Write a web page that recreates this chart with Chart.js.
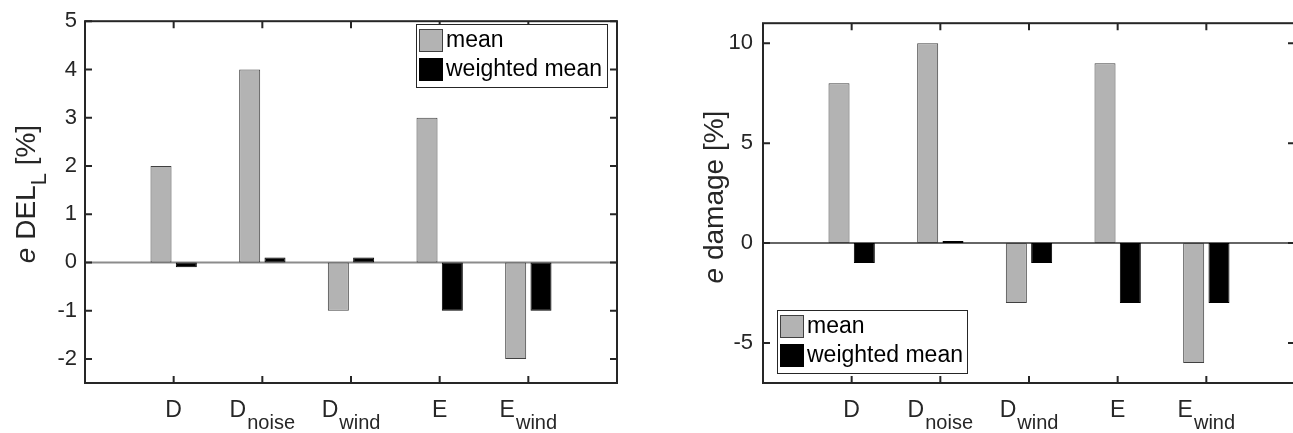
<!DOCTYPE html>
<html>
<head>
<meta charset="utf-8">
<script src="https://cdn.jsdelivr.net/npm/chart.js@4.4.1/dist/chart.umd.min.js"></script>
<style>
  html, body { margin: 0; padding: 0; background: #fff; overflow: hidden; width: 1293px; height: 433px; }
  canvas { position: absolute; top: 0; }
  #left { left: 0; }
  #right { left: 650px; }
</style>
</head>
<body>
<canvas id="left" width="650" height="433"></canvas>
<canvas id="right" width="650" height="433"></canvas>
<script>
// categories, with an empty slot at each end (the axis runs 0..6)
const categories = ['', 'D', 'Dnoise', 'Dwind', 'E', 'Ewind', '']
const labelMain = ['', 'D', 'D', 'D', 'E', 'E', '']
const labelSub = ['', '', 'noise', 'wind', '', 'wind', '']
const seriesNames = ['mean', 'weighted mean']

// left panel: e DEL_L [%]
const delMean = [null, 2, 4, -1, 3, -2, null]
const delWeighted = [null, -0.1, 0.1, 0.1, -1, -1, null]
const delTicks = [-2, -1, 0, 1, 2, 3, 4, 5]

// right panel: e damage [%]
const damageMean = [null, 8, 10, -3, 9, -6, null]
const damageWeighted = [null, -1, 0.1, -1, -3, -3, null]
const damageTicks = [-5, 0, 5, 10]

const FONT = '"Liberation Sans", Arial, Helvetica, sans-serif'
const INK = '#262626'

const frame = {
    id: 'frame',
    beforeDatasetsDraw(chart, args, opts) {
        const { ctx, chartArea: a, scales: { y } } = chart
        const y0 = y.getPixelForValue(0)
        ctx.save()
        ctx.strokeStyle = opts.zeroColor
        ctx.lineWidth = opts.zeroWidth
        ctx.beginPath()
        ctx.moveTo(a.left, y0)
        ctx.lineTo(a.right, y0)
        ctx.stroke()
        ctx.restore()
    },
    afterDraw(chart, args, opts) {
        const { ctx, chartArea: a, scales: { x, y } } = chart
        ctx.save()

        // box
        ctx.strokeStyle = INK
        ctx.lineWidth = 2
        ctx.strokeRect(a.left, a.top, a.right - a.left, a.bottom - a.top)

        // inward ticks
        const tl = 7
        ctx.beginPath()
        y.ticks.forEach(t => {
            const py = y.getPixelForValue(t.value)
            ctx.moveTo(a.left, py); ctx.lineTo(a.left + tl, py)
            ctx.moveTo(a.right, py); ctx.lineTo(a.right - tl, py)
        })
        for (let i = 1; i < categories.length - 1; i++) {
            const px = x.getPixelForValue(i)
            ctx.moveTo(px, a.bottom); ctx.lineTo(px, a.bottom - tl)
            ctx.moveTo(px, a.top); ctx.lineTo(px, a.top + tl)
        }
        ctx.stroke()

        // category labels with subscripts
        ctx.fillStyle = INK
        ctx.textBaseline = 'alphabetic'
        ctx.textAlign = 'left'
        for (let i = 1; i < categories.length - 1; i++) {
            const px = x.getPixelForValue(i)
            ctx.font = `23px ${FONT}`
            const wm = ctx.measureText(labelMain[i]).width
            ctx.font = `20px ${FONT}`
            const ws = labelSub[i] ? ctx.measureText(labelSub[i]).width + 1 : 0
            const x0 = px - (wm + ws) / 2
            ctx.font = `23px ${FONT}`
            ctx.fillText(labelMain[i], x0, 417)
            if (labelSub[i]) {
                ctx.font = `20px ${FONT}`
                ctx.fillText(labelSub[i], x0 + wm + 1, 429)
            }
        }

        // y title
        const parts = opts.title
        const fontOf = p => `${p.italic ? 'italic ' : ''}${p.sub ? 22 : 28}px ${FONT}`
        let total = 0
        parts.forEach(p => { ctx.font = fontOf(p); total += ctx.measureText(p.text).width })
        ctx.translate(opts.titleX, opts.titleY)
        ctx.rotate(-Math.PI / 2)
        let cx = -total / 2
        parts.forEach(p => {
            ctx.font = fontOf(p)
            ctx.fillText(p.text, cx, p.sub ? 11 : 0)
            cx += ctx.measureText(p.text).width
        })
        ctx.setTransform(1, 0, 0, 1, 0, 0)

        // legend
        const L = opts.legend
        ctx.fillStyle = '#fff'
        ctx.fillRect(L.left, L.top, L.width, L.height)
        ctx.lineWidth = 1
        ctx.strokeStyle = INK
        ctx.strokeRect(L.left + 0.5, L.top + 0.5, L.width, L.height)
        chart.data.datasets.forEach((ds, i) => {
            const sy = L.top + 5 + i * 29
            ctx.fillStyle = ds.backgroundColor
            ctx.fillRect(L.left + 3, sy, 24, 23)
            ctx.strokeStyle = ds.borderColor
            ctx.strokeRect(L.left + 3.5, sy + 0.5, 23, 22)
            ctx.fillStyle = '#000'
            ctx.font = `23px ${FONT}`
            ctx.textBaseline = 'middle'
            ctx.fillText(ds.label, L.left + 30, sy + 12)
        })
        ctx.restore()
    }
}

function makeChart (canvasId, mean, weighted, ticks, yMin, yMax, axisWidth, padRight, tickPad, frameOpts) {
    const data = {
        labels: categories,
        datasets: [
            {
                label: seriesNames[0],
                data: mean,
                backgroundColor: '#b3b3b3',
                borderColor: '#404040',
                borderWidth: 1,
                borderSkipped: false
            },
            {
                label: seriesNames[1],
                data: weighted,
                backgroundColor: '#000000',
                borderColor: '#000000',
                borderWidth: 1,
                borderSkipped: false
            }
        ]
    }

    const config = {
        type: 'bar',
        data: data,
        options: {
            responsive: false,
            animation: false,
            categoryPercentage: 0.571,
            barPercentage: 0.83,
            layout: { padding: { left: 0, top: 14, right: padRight, bottom: 0 } },
            scales: {
                x: {
                    offset: false,
                    grid: { display: false, drawTicks: false },
                    border: { display: false },
                    ticks: { display: false },
                    afterFit: s => { s.height = 50 }
                },
                y: {
                    min: yMin,
                    max: yMax,
                    grid: { display: false, drawTicks: false },
                    border: { display: false },
                    afterBuildTicks: s => { s.ticks = ticks.map(v => ({ value: v })) },
                    ticks: {
                        padding: tickPad,
                        color: INK,
                        font: { family: FONT, size: 22 }
                    },
                    afterFit: s => { s.width = axisWidth }
                }
            },
            plugins: {
                legend: { display: false },
                tooltip: { enabled: false },
                frame: frameOpts
            }
        },
        plugins: [frame]
    }

    return new Chart(document.getElementById(canvasId).getContext('2d'), config)
}

makeChart('left', delMean, delWeighted, delTicks, -2.5, 5, 85, 33, 8, {
    zeroColor: '#8c8c8c',
    zeroWidth: 2,
    title: [{ text: 'e', italic: true }, { text: ' DEL' }, { text: 'L', sub: true }, { text: ' [%]' }],
    titleX: 35,
    titleY: 194,
    legend: { left: 416, top: 24, width: 191, height: 63 }
})

makeChart('right', damageMean, damageWeighted, damageTicks, -7, 11, 113, 5, 10, {
    zeroColor: '#333333',
    zeroWidth: 1.5,
    title: [{ text: 'e', italic: true }, { text: ' damage [%]' }],
    titleX: 73,
    titleY: 197,
    legend: { left: 127, top: 310, width: 190, height: 63 }
})
</script>
</body>
</html>
